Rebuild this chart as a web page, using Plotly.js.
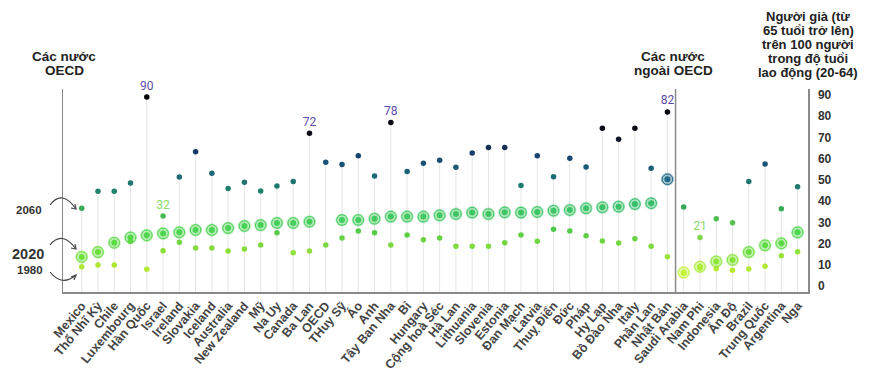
<!DOCTYPE html>
<html>
<head>
<meta charset="utf-8">
<script src="https://cdn.plot.ly/plotly-3.0.1.min.js"></script>
<style>html,body{margin:0;padding:0;background:#fff;}#chart{width:870px;height:377px;}</style>
</head>
<body>
<div id="chart"></div>
<script>
const countries = ['Mexico','Thổ Nhĩ Kỳ','Chile','Luxembourg','Hàn Quốc','Israel','Ireland','Slovakia','Iceland','Australia','New Zealand','Mỹ','Na Uy','Canada','Ba Lan','OECD','THuy Sỹ','Áo','Anh','Tây Ban Nha','Bỉ','Hungary','Cộng hoà Séc','Hà Lan','Lithuania','Slovenia','Estonia','Đan Mạch','Latvia','Thuỵ Điển','Đức','Pháp','Hy Lạp','Bồ Đào Nha','Italy','Phần Lan','Nhật Bản','Saudi Arabia','Nam Phi','Indonesia','Ấn Độ','Brazil','Trung Quốc','Argentina','Nga'];
const v1980 = [9.1,9.9,9.9,21,7.9,16.6,20.6,17.9,17.9,16.5,17.4,19.3,25.1,15.7,16.5,19.3,22.6,25.9,25.1,19.3,24,21.8,22.6,18.8,18.8,18.8,20.4,24,21.1,26.7,25.9,23.7,21.2,20.3,22.3,18.7,13.8,6,8.5,8.2,7.5,8,9.3,14.3,16.2];
const v2020 = [13.7,16,20.4,22.9,23.9,24.8,25.3,26.4,26.4,27.3,28.3,28.7,29.7,29.7,30.3,null,31.1,31.1,31.7,32.7,32.7,32.7,33.3,33.9,34.6,33.9,34.7,34.6,34.9,35.5,35.8,36.6,37.1,37.4,38.6,39,50.3,6.4,9.1,11.6,12.3,16,19.2,20.1,25.3];
const v2060 = [36.6,44.6,44.6,48.5,89,33,51.4,63.3,53.1,45.9,48.9,44.8,47.1,49.2,72,58.3,57.3,61.4,51.8,77,54,57.8,59.2,55.9,62.7,65.2,65.2,47.3,61.4,51.5,60.2,56.1,74.3,69.1,74.3,55.5,82,37.2,22.9,31.7,29.8,49.2,57.5,36.4,46.8];
const labels2060 = ['','','','','90','32','','','','','','','','','72','','','','','78','','','','','','','','','','','','','','','','','82','','21','','','','','',''];
const yTicks = [0,10,20,30,40,50,60,70,80,90];
const leftTitle = ['Các nước','OECD'];
const midTitle = ['Các nước','ngoài OECD'];
const rightTitle = ['Người già (từ','65 tuổi trở lên)','trên 100 người','trong độ tuổi','lao động (20-64)'];

const idx = countries.map((c,i)=>i);
const Y0 = -2.8, Y1 = 92.8;

// stems
const sx = [], sy = [];
idx.forEach(i => { sx.push(i,i,null); sy.push(Y0, v2060[i], null); });

const scale2060 = [[0,'#8fe04a'],[0.2,'#3fb650'],[0.36,'#1f806c'],[0.5,'#1a5f7a'],[0.61,'#153f6e'],[0.72,'#0d0d1a'],[1,'#000000']];
const scale2020 = [[0,'#d2f53a'],[0.1,'#a8ec38'],[0.185,'#70e03a'],[0.43,'#4cd64e'],[0.72,'#36bf6c'],[0.8,'#2a9a78'],[1,'#1c5e8a']];
const scale1980 = [[0,'#c4ec30'],[0.5,'#8fe03a'],[1,'#4cc84c']];

const traces = [
  {x: sx, y: sy, mode:'lines', line:{color:'#e6e6e6', width:1}, hoverinfo:'skip', showlegend:false},
  {x: idx, y: v1980, mode:'markers', marker:{size:5.5, color:v1980, colorscale:scale1980, cmin:5, cmax:27}, showlegend:false},
  {x: idx, y: v2020, mode:'markers', marker:{size:13, color:v2020, colorscale:scale2020, cmin:5, cmax:52, opacity:0.4}, showlegend:false},
  {x: idx, y: v2020, mode:'markers', marker:{symbol:'circle-open', size:10.5, color:v2020, colorscale:scale2020, cmin:5, cmax:52, line:{width:1}}, showlegend:false},
  {x: idx, y: v2020, mode:'markers', marker:{size:6, color:v2020, colorscale:scale2020, cmin:5, cmax:52}, showlegend:false},
  {x: idx, y: v2060, mode:'markers+text', text: labels2060, textposition:'top center', cliponaxis:false,
   textfont:{family:'Roboto, Liberation Sans, Arial', size:12, color: v2060.map(v => v >= 70 ? '#5a4aa8' : '#8ad86a')},
   marker:{size:5.5, color:v2060, colorscale:scale2060, cmin:20, cmax:90}, showlegend:false}
];

const L = 63, R = 808, T = 89, B = 292;
const px = x => (x - L) / (R - L);
const py = y => (B - y) / (B - T);
function curve(p0, c, p2) {
  return `M ${px(p0[0])},${py(p0[1])} Q ${px(c[0])},${py(c[1])} ${px(p2[0])},${py(p2[1])}`;
}
function head(tip, a, b) {
  return `M ${px(a[0])},${py(a[1])} L ${px(tip[0])},${py(tip[1])} L ${px(b[0])},${py(b[1])}`;
}
const arrowLine = {color:'#444', width:1.2};
const shapes = [
  {type:'line', xref:'x', yref:'paper', x0:36.5, x1:36.5, y0:0, y1:1, line:{color:'#8a8a8a', width:1.5}},
  {type:'path', xref:'paper', yref:'paper', path: curve([50,205],[62,189],[76,209]), line:arrowLine},
  {type:'path', xref:'paper', yref:'paper', path: head([76,209],[71,208],[75,204]), line:arrowLine},
  {type:'path', xref:'paper', yref:'paper', path: curve([50,245],[62,230],[76,249]), line:arrowLine},
  {type:'path', xref:'paper', yref:'paper', path: head([76,249],[71,248],[75,244]), line:arrowLine},
  {type:'path', xref:'paper', yref:'paper', path: curve([50,272],[62,287],[76,275]), line:arrowLine},
  {type:'path', xref:'paper', yref:'paper', path: head([76,275],[71,277],[74,280]), line:arrowLine}
];

const F = 'Liberation Sans, Arial, sans-serif';
const annotations = [
  {xref:'paper', yref:'paper', x:px(44), y:py(210), text:'<b>2060</b>', showarrow:false, font:{family:F, size:11.5, color:'#333'}, xanchor:'right', yanchor:'middle'},
  {xref:'paper', yref:'paper', x:px(46), y:py(254), text:'<b>2020</b>', showarrow:false, font:{family:F, size:14.5, color:'#333'}, xanchor:'right', yanchor:'middle'},
  {xref:'paper', yref:'paper', x:px(45), y:py(270), text:'<b>1980</b>', showarrow:false, font:{family:F, size:11.5, color:'#333'}, xanchor:'right', yanchor:'middle'}
];
function addLines(lines, cx, y0, dy, size) {
  lines.forEach((t, k) => {
    annotations.push({xref:'paper', yref:'paper', x:px(cx), y:py(y0 + k*dy), text:'<b>'+t+'</b>', showarrow:false,
      font:{family:F, size:size, color:'#222'}, xanchor:'center', yanchor:'middle'});
  });
}
addLines(leftTitle, 64, 56, 14.8, 13.5);
addLines(midTitle, 673, 56, 14.8, 13.5);
addLines(rightTitle, 808, 16, 14.2, 13);

const layout = {
  width:870, height:377,
  margin:{l:L, r:870-R, t:T, b:377-B, pad:0},
  paper_bgcolor:'#fff', plot_bgcolor:'#fff',
  showlegend:false,
  xaxis:{range:[-1.15, 44.64], tickmode:'array', tickvals: idx, ticktext: countries, tickangle:-50,
         tickfont:{family:F, size:12.5, color:'#444', weight:'bold'}, showgrid:false, zeroline:false,
         showline:true, linecolor:'#8a8a8a', linewidth:1.5, ticks:'', ticklen:0, fixedrange:true},
  yaxis:{range:[Y0, Y1], side:'right', tickmode:'array', tickvals:yTicks, ticktext: yTicks.map(String),
         tickfont:{family:F, size:12, color:'#333', weight:'bold'}, showgrid:false, zeroline:false,
         showline:true, mirror:true, linecolor:'#8a8a8a', linewidth:1.5, ticks:'', ticklabelstandoff:6},
  shapes: shapes,
  annotations: annotations
};

Plotly.newPlot('chart', traces, layout, {displayModeBar:false, staticPlot:true});
</script>
</body>
</html>
